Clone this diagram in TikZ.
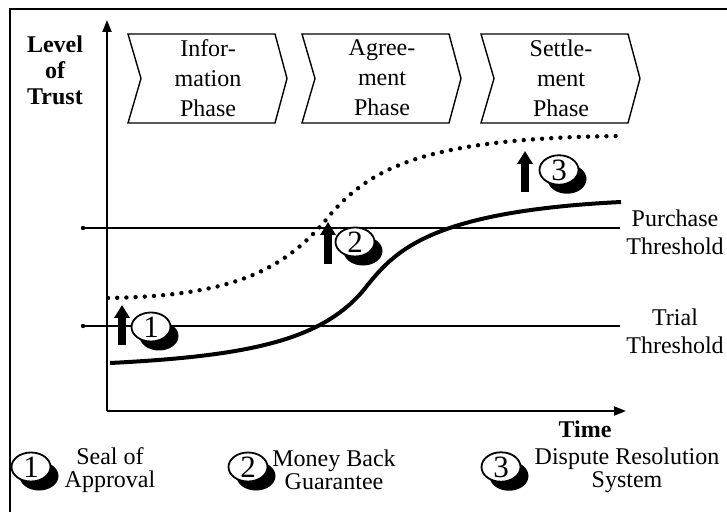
\documentclass[tikz,border=0pt]{standalone}
\usepackage{fontspec}
\setmainfont{Liberation Serif}
\usetikzlibrary{arrows.meta,shapes.geometric,shadows,positioning}

\begin{document}
\begin{tikzpicture}[x=0.5pt,y=-0.5pt,
	axis/.style={line width=1pt,-{Triangle[length=6pt,width=4.5pt]}},
	thresh/.style={line width=1pt},
	trustdot/.style={line width=2.2pt,line cap=round,dash pattern=on 0pt off 4.6pt},
	trustline/.style={line width=2pt},
	markarrow/.style={line width=3.8pt,-{Triangle[length=6.5pt,width=7.5pt]}},
	badge/.style={ellipse,draw,line width=0.9pt,fill=white,minimum width=19.5pt,minimum height=14.5pt,inner sep=0pt,font=\fontsize{15.5}{15.5}\selectfont,drop shadow={shadow xshift=4pt,shadow yshift=-4.5pt,fill=black,opacity=1}},
	phasebox/.style={draw,line width=0.7pt},
	legendtext/.style={align=center,font=\fontsize{12}{11.5}\selectfont},
	]
	\tikzstyle{every node}=[font=\fontsize{12}{15}\selectfont]
	\useasboundingbox (0,0) rectangle (727,512);
	\draw [line width=1.3pt] (10,525) -- (10,9) -- (740,9);
	
	\node [align=center,font=\bfseries\fontsize{12}{13}\selectfont] (level) at (55,70) {Level\\of\\Trust};
	
	\foreach \x/\name/\txt in {128/info/{Infor-\\mation\\Phase},302/agree/{Agree-\\ment\\Phase},481/settle/{Settle-\\ment\\Phase}}{
		\draw [phasebox] (\x,34) -- ++(147,0) -- ++(12,44.5) -- ++(-12,44.5) -- ++(-147,0) -- ++(13,-44.5) -- cycle;
		\node [align=center] (\name) at (\x+80,78) {\txt};
	}
	
	\coordinate (origin) at (107,411);
	\coordinate (ytip) at (107,20);
	\coordinate (xtip) at (626,411);
	\draw [axis] (origin) -- (ytip);
	\draw [axis] (origin) -- (xtip);
	\node [font=\bfseries\fontsize{12}{13}\selectfont] (time) at (585,429) {Time};
	
	\coordinate (p0) at (83,228);
	\coordinate (p1) at (620,228);
	\coordinate (t0) at (83,326);
	\coordinate (t1) at (620,326);
	\fill (p0) circle (2.2);
	\fill (t0) circle (2.2);
	\draw [thresh] (p0) -- (p1);
	\draw [thresh] (t0) -- (t1);
	\node [align=center,font=\fontsize{12}{14}\selectfont] (purchase) at (675,232) {Purchase\\Threshold};
	\node [align=center,font=\fontsize{12}{14}\selectfont] (trial) at (675,331) {Trial\\Threshold};
	
	\draw [trustdot] (108,298) .. controls (230,296) and (284,272) .. (330,215) .. controls (372,166) and (430,138) .. (621,136);
	\draw [trustline] (110,363) .. controls (250,356) and (320,340) .. (362,292) .. controls (392,255) and (420,212) .. (621,202);
	
	\coordinate (a1s) at (122,345);
	\coordinate (a1e) at (122,305);
	\coordinate (a2s) at (328,264);
	\coordinate (a2e) at (328,222);
	\coordinate (a3s) at (525,192);
	\coordinate (a3e) at (525,151);
	\draw [markarrow] (a1s) -- (a1e);
	\draw [markarrow] (a2s) -- (a2e);
	\draw [markarrow] (a3s) -- (a3e);
	\node [badge] (m1) at (151,327) {1};
	\node [badge] (m2) at (355,242) {2};
	\node [badge] (m3) at (559,170) {3};
	
	\node [badge] (l1) at (31,467) {1};
	\node [legendtext] (seal) at (110,470) {Seal of\\Approval};
	\node [badge] (l2) at (248,467) {2};
	\node [legendtext] (money) at (334,470) {Money Back\\Guarantee};
	\node [badge] (l3) at (501,467) {3};
	\node [legendtext] (dispute) at (627,470) {Dispute Resolution\\System};
	
\end{tikzpicture}
\end{document}
